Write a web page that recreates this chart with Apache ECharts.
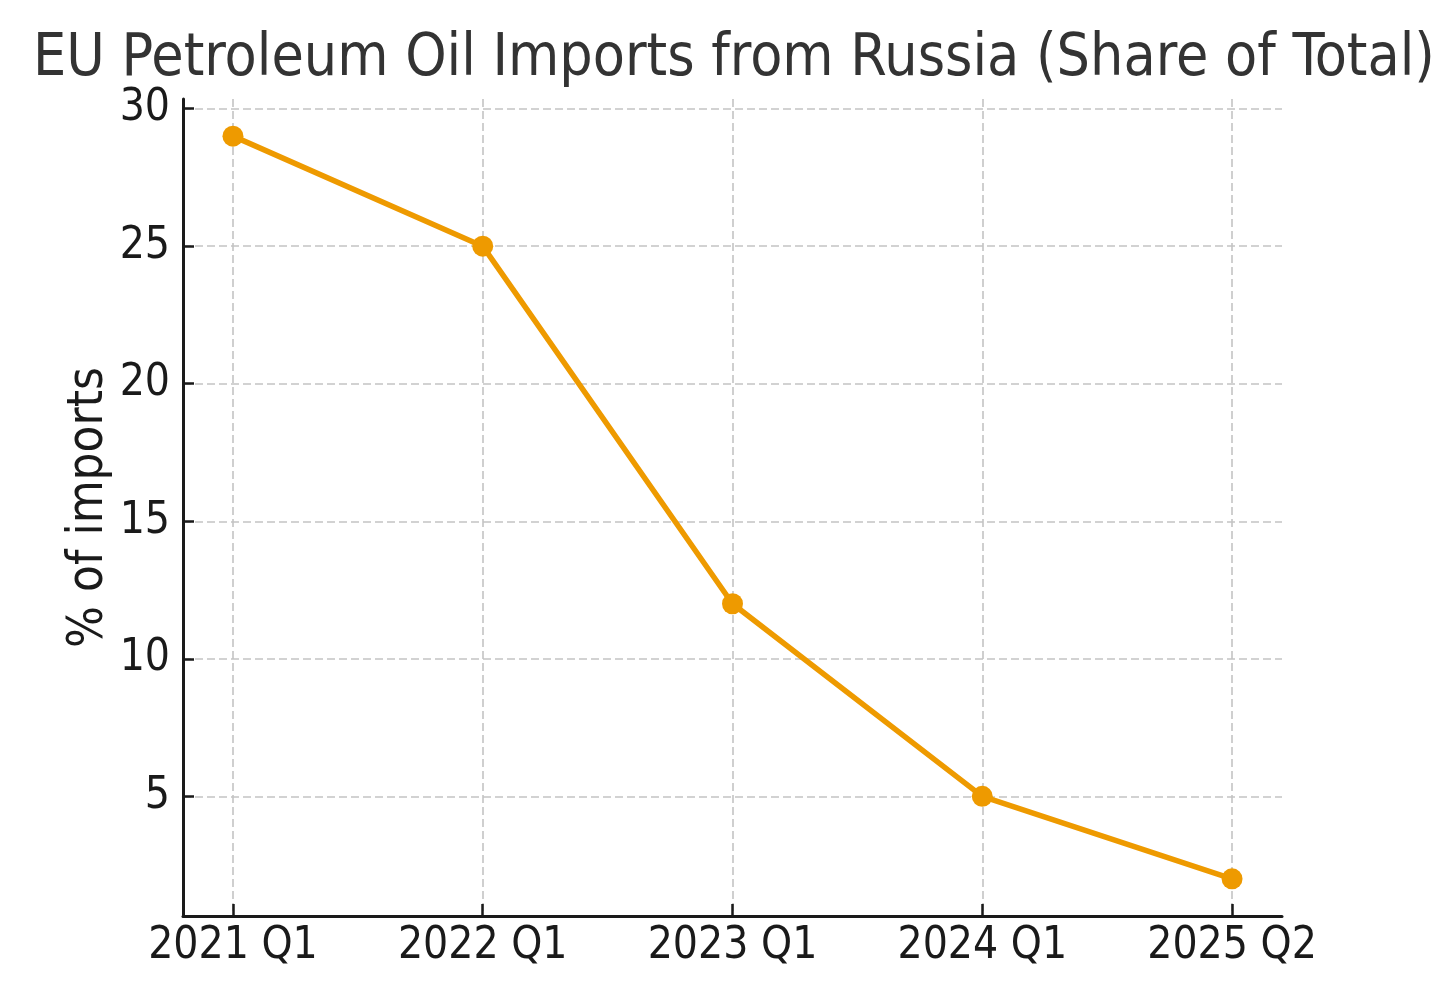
<!DOCTYPE html>
<html>
<head>
<meta charset="utf-8">
<script src="https://cdn.jsdelivr.net/npm/echarts@6/dist/echarts.min.js"></script>
<style>
html,body{margin:0;padding:0;background:#fff;}
#chart{width:1456px;height:1008px;}
</style>
</head>
<body>
<div id="chart"></div>
<script>
const categories = ['2021 Q1', '2022 Q1', '2023 Q1', '2024 Q1', '2025 Q2'];
const shareValues = [29, 25, 12, 5, 2];
const yTickValues = [5, 10, 15, 20, 25, 30];
const titleText = 'EU Petroleum Oil Imports from Russia (Share of Total)';
const yAxisTitle = '% of imports';

const FONT = '"DejaVu Sans Condensed", "DejaVu Sans", sans-serif';
const Y_MIN = 0.65, Y_MAX = 30.35;
const X_MIN = -0.2, X_MAX = 4.2;

// pixel frame of the axes
const L = 183, R = 1282, T = 99, B = 916;
const pxPerX = (R - L) / (X_MAX - X_MIN);
const pxPerY = (B - T) / (Y_MAX - Y_MIN);
const x0 = L + (0 - X_MIN) * pxPerX;
const x4 = L + (categories.length - 1 - X_MIN) * pxPerX;
const yTop = B - (yTickValues[yTickValues.length - 1] - Y_MIN) * pxPerY;
const yBot = B - (yTickValues[0] - Y_MIN) * pxPerY;

const chart = echarts.init(document.getElementById('chart'), null, {renderer: 'canvas'});
const splitStyle = {show: true, lineStyle: {color: '#c4c4c4', width: 1.6, type: [8, 4]}};
const ORANGE = '#EE9A00';

chart.setOption({
  backgroundColor: '#fff',
  animation: false,
  title: {
    text: titleText,
    left: 729,
    textAlign: 'center',
    top: 25,
    textStyle: {fontFamily: FONT, fontSize: 58.5, fontWeight: 'normal', color: '#333'}
  },
  grid: [
    {left: x0, top: T, width: x4 - x0, height: B - T},
    {left: L, top: yTop, width: R - L, height: yBot - yTop},
    {left: L, top: T, width: R - L, height: B - T}
  ],
  xAxis: [
    {
      gridIndex: 0, type: 'value', min: 0, max: categories.length - 1, interval: 1,
      axisLine: {show: false},
      axisTick: {show: true, inside: true, length: 12, lineStyle: {color: '#1a1a1a', width: 2.5}},
      axisLabel: {
        show: true, margin: 9, color: '#1a1a1a', fontFamily: FONT, fontSize: 44,
        formatter: v => categories[Math.round(v)] || ''
      },
      splitLine: splitStyle
    },
    {gridIndex: 1, type: 'value', show: false},
    {
      gridIndex: 2, type: 'value', min: X_MIN, max: X_MAX,
      axisLine: {show: true, onZero: false, lineStyle: {color: '#1a1a1a', width: 3}},
      axisTick: {show: false}, axisLabel: {show: false}, splitLine: {show: false}
    }
  ],
  yAxis: [
    {gridIndex: 0, type: 'value', min: Y_MIN, max: Y_MAX, show: false},
    {
      gridIndex: 1, type: 'value', min: yTickValues[0], max: yTickValues[yTickValues.length - 1],
      interval: yTickValues[1] - yTickValues[0],
      axisLine: {show: false},
      axisTick: {show: true, inside: true, length: 11, lineStyle: {color: '#1a1a1a', width: 2.5}},
      axisLabel: {show: true, margin: 13, color: '#1a1a1a', fontFamily: FONT, fontSize: 44},
      splitLine: splitStyle
    },
    {
      gridIndex: 2, type: 'value', min: Y_MIN, max: Y_MAX,
      axisLine: {show: true, onZero: false, lineStyle: {color: '#1a1a1a', width: 3}},
      axisTick: {show: false}, axisLabel: {show: false}, splitLine: {show: false},
      name: yAxisTitle, nameLocation: 'middle', nameRotate: 90, nameGap: 69,
      nameTextStyle: {fontFamily: FONT, fontSize: 49, color: '#1a1a1a'}
    }
  ],
  series: [{
    type: 'line',
    xAxisIndex: 0, yAxisIndex: 0,
    data: shareValues.map((v, i) => [i, v]),
    clip: false,
    symbol: 'circle', symbolSize: 21,
    lineStyle: {color: ORANGE, width: 5.5},
    itemStyle: {color: ORANGE},
    z: 10
  }]
});
</script>
</body>
</html>
